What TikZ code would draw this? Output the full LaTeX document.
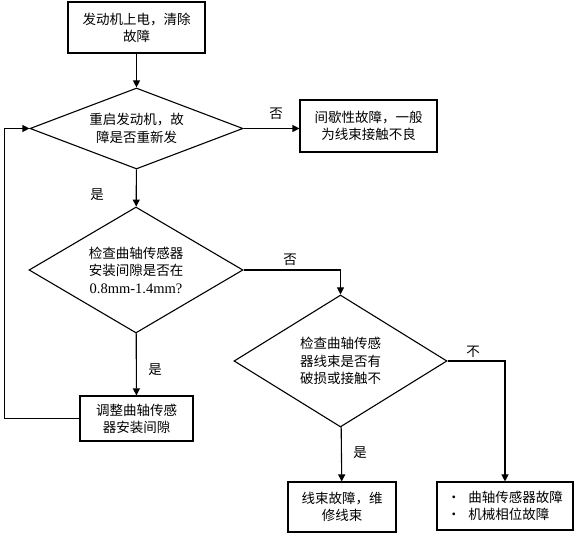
\documentclass[tikz,border=0pt]{standalone}
\usepackage{fontspec}
\setmainfont{Noto Sans CJK SC}
\newfontfamily\latinfont{Liberation Serif}
\usetikzlibrary{arrows.meta,shapes.geometric}

\begin{document}
\begin{tikzpicture}[
    x=1pt, y=-1pt,
    >={Triangle[length=7pt,width=7pt]},
    line width=1.1pt,
    box/.style={draw, rectangle, align=center, inner sep=0pt, font=\fontsize{13.5}{17}\selectfont},
    decision/.style={draw, diamond, align=center, inner sep=0pt, aspect=2, font=\fontsize{13.5}{17.5}\selectfont},
    flow/.style={->},
    answer/.style={font=\fontsize{13.5}{15}\selectfont}
]
    \useasboundingbox (0,0) rectangle (576,534);

    % process boxes
    \node[box, minimum width=137pt, minimum height=51pt] (start) at (136.5,27.5) {发动机上电，清除\\故障};
    \node[box, minimum width=137pt, minimum height=52pt] (intermit) at (368.5,126) {间歇性故障，一般\\为线束接触不良};
    \node[box, minimum width=113pt, minimum height=45pt] (adjust) at (136.5,418.5) {调整曲轴传感\\器安装间隙};
    \node[box, minimum width=108pt, minimum height=50pt] (repair) at (342,507) {线束故障，维\\修线束};
    \node[box, align=left, minimum width=136pt, minimum height=48pt] (sensor) at (505,506)
        {\textbullet\hspace{8pt}曲轴传感器故障\\\textbullet\hspace{8pt}机械相位故障};

    % decisions
    \node[decision, minimum width=213pt, minimum height=81pt] (restart) at (136.5,128.5) {重启发动机，故\\障是否重新发};
    \node[decision, minimum width=214pt, minimum height=126pt] (gap) at (136,270) {检查曲轴传感器\\安装间隙是否在\\{\latinfont\fontsize{14.5}{17.5}\selectfont 0.8mm-1.4mm?}};
    \node[decision, minimum width=213pt, minimum height=132pt] (harness) at (340.5,361) {检查曲轴传感\\器线束是否有\\破损或接触不};

    % connectors
    \draw[flow] (start) -- (restart);
    \draw[flow] (restart.east) -- (restart.east -| intermit.west);
    \draw[flow] (restart) -- (gap);
    \draw[flow] (gap.east) -| (harness.north);
    \draw[flow] (gap) -- (adjust);
    \draw[flow] (adjust.west) -- ++(-75,0) |- (restart.west);
    \draw[flow] (harness) -- (repair);
    \draw[flow] (harness.east) -| (sensor.north);

    % answers
    \node[answer] (no1) at (276,114) {否};
    \node[answer] (yes1) at (97,195) {是};
    \node[answer] (no2) at (290,260) {否};
    \node[answer] (yes2) at (155,370) {是};
    \node[answer] (no3) at (473,352) {不};
    \node[answer] (yes3) at (360,453) {是};
\end{tikzpicture}
\end{document}
